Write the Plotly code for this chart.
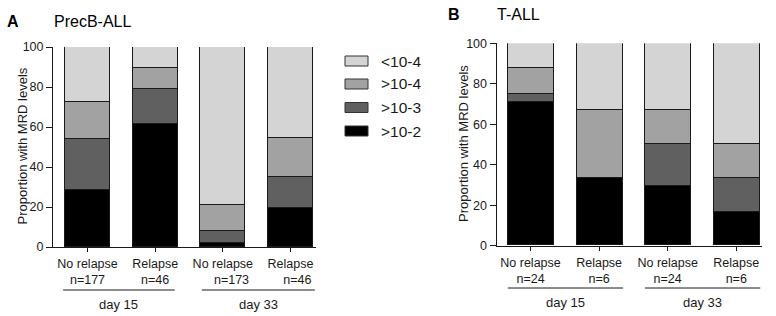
import plotly.graph_objects as go

# ---------------- data ----------------
series_names = [">10-2", ">10-3", ">10-4", "<10-4"]
series_colors = ["#000000", "#606060", "#a2a2a2", "#d4d4d4"]

groups = ["No relapse", "Relapse", "No relapse", "Relapse"]
days = ["day 15", "day 33"]

a_title = "PrecB-ALL"
a_n = ["n=177", "n=46", "n=173", "n=46"]
a_gt2 = [28.5, 61.7, 1.8, 19.7]
a_gt3 = [25.5, 17.1, 6.2, 15.1]
a_gt4 = [18.3, 10.5, 12.8, 19.5]
a_lt4 = [27.7, 10.7, 79.2, 45.7]

b_title = "T-ALL"
b_n = ["n=24", "n=6", "n=24", "n=6"]
b_gt2 = [70.8, 33.3, 29.2, 16.7]
b_gt3 = [4.2, 0.0, 20.8, 16.6]
b_gt4 = [12.5, 33.4, 16.7, 16.7]
b_lt4 = [12.5, 33.3, 33.3, 50.0]

y_ticks = [0, 20, 40, 60, 80, 100]
y_title = "Proportion with MRD levels"

# ---------------- figure ----------------
W, H = 776, 316
FONT = "Liberation Sans, Arial, sans-serif"
TXT = "#1a1a1a"
fig = go.Figure()

pos = list(range(len(groups)))
a_vals = [a_gt2, a_gt3, a_gt4, a_lt4]
b_vals = [b_gt2, b_gt3, b_gt4, b_lt4]

for name, col, va, vb in zip(series_names, series_colors, a_vals, b_vals):
    fig.add_trace(go.Bar(x=pos, y=va, name=name, marker_color=col,
                         marker_line=dict(color="#1a1a1a", width=1),
                         width=0.665, xaxis="x", yaxis="y", showlegend=False))
    fig.add_trace(go.Bar(x=pos, y=vb, name=name, marker_color=col,
                         marker_line=dict(color="#1a1a1a", width=1),
                         width=0.67, xaxis="x2", yaxis="y2", showlegend=False))

def px(x):
    return x / W

def py(y):
    return (H - y) / H

nb = "\u00a0"
a_ticktext = [f"{g}<br>{n}" for g, n in zip(groups, a_n)]
a_ticktext[2] = f"{groups[2]}<br>{nb*5}{a_n[2]}"
a_ticktext[3] = f"{groups[3]}<br>{nb*4}{a_n[3]}"
b_ticktext = [f"{g}<br>{n}" for g, n in zip(groups, b_n)]

tickfont = dict(family=FONT, size=12.5, color=TXT)
common_x = dict(showline=True, linecolor="#1a1a1a", linewidth=1, ticks="outside",
                ticklen=4, tickcolor="#1a1a1a", tickfont=tickfont, showgrid=False,
                zeroline=False, tickvals=pos, ticklabelstandoff=1, automargin=False)
common_y = dict(showline=True, linecolor="#1a1a1a", linewidth=1, ticks="outside",
                ticklen=6, tickcolor="#1a1a1a", tickfont=tickfont, showgrid=False,
                zeroline=False, range=[0, 100], tickvals=y_ticks, automargin=False)

fig.update_layout(
    width=W, height=H, barmode="stack", bargap=0,
    paper_bgcolor="white", plot_bgcolor="white",
    margin=dict(l=0, r=0, t=0, b=0, autoexpand=False),
    font=dict(family=FONT, color=TXT),
    xaxis=dict(common_x, domain=[px(53), px(316)], range=[-0.51, 3.377],
               ticktext=a_ticktext, anchor="y"),
    yaxis=dict(common_y, domain=[py(247), py(47)], anchor="x"),
    xaxis2=dict(common_x, domain=[px(496.5), px(762)], range=[-0.496, 3.375],
                ticktext=b_ticktext, anchor="y2"),
    yaxis2=dict(common_y, domain=[py(245.7), py(43.3)], anchor="x2"),
)

shapes = []
annots = []
# y-axis titles
for cx, cy, fs in [(21.5, 146, 13), (463, 144, 13)]:
    annots.append(dict(xref="paper", yref="paper", x=px(cx), y=py(cy), text=y_title,
                       textangle=-90, showarrow=False, xanchor="center", yanchor="middle",
                       font=dict(family=FONT, size=fs, color=TXT)))

# group brackets
brackets = [
    ("x", [(-0.36, 1.29), (1.69, 3.36)], 290, 304),
    ("x2", [(-0.33, 1.35), (1.67, 3.35)], 288, 302),
]
for xr, spans, ly, ty in brackets:
    for (x0, x1), d in zip(spans, days):
        shapes.append(dict(type="line", xref=xr, yref="paper", x0=x0, x1=x1,
                           y0=py(ly), y1=py(ly), line=dict(color="#1a1a1a", width=1)))
        annots.append(dict(xref=xr, yref="paper", x=(x0 + x1) / 2, y=py(ty),
                           text=d, showarrow=False, xanchor="center", yanchor="middle",
                           font=dict(family=FONT, size=13, color=TXT)))

# panel titles
for letter, title, lx, tx, ty in [("A", a_title, 5, 52, 21), ("B", b_title, 446, 495, 14)]:
    annots.append(dict(xref="paper", yref="paper", x=px(lx), y=py(ty), text=f"<b>{letter}</b>",
                       showarrow=False, xanchor="left", yanchor="middle",
                       font=dict(family=FONT, size=16, color="#000")))
    annots.append(dict(xref="paper", yref="paper", x=px(tx), y=py(ty), text=title,
                       showarrow=False, xanchor="left", yanchor="middle",
                       font=dict(family=FONT, size=16, color="#000")))

# manual legend (top item = last series)
leg_rows = [61, 84, 107.5, 131]
for (name, col), yc in zip(list(zip(series_names, series_colors))[::-1], leg_rows):
    shapes.append(dict(type="rect", xref="paper", yref="paper",
                       x0=px(345), x1=px(368), y0=py(yc + 5), y1=py(yc - 5),
                       fillcolor=col, line=dict(color="#333", width=1)))
    annots.append(dict(xref="paper", yref="paper", x=px(379), y=py(yc), text=name,
                       showarrow=False, xanchor="left", yanchor="middle",
                       font=dict(family=FONT, size=15.5, color=TXT)))

fig.update_layout(shapes=shapes, annotations=annots)
fig.write_html("out.html", config={"displayModeBar": False},
               post_script="document.body.style.margin='0';document.body.style.overflow='hidden';")
